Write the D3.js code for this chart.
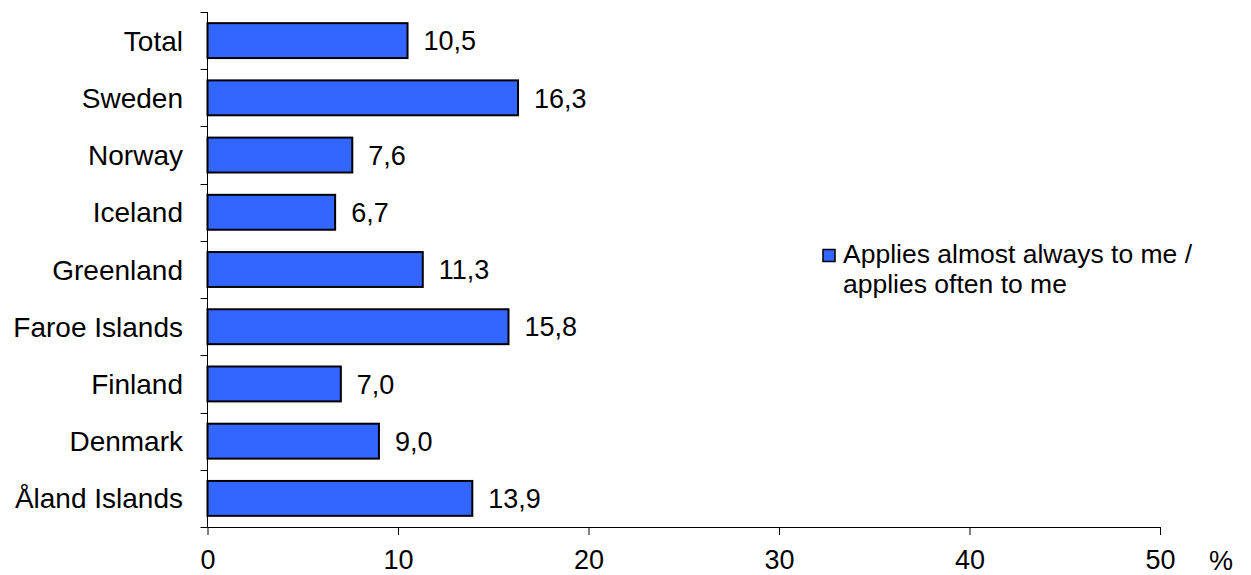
<!DOCTYPE html>
<html><head><meta charset="utf-8">
<script src="https://cdn.jsdelivr.net/npm/d3@7/dist/d3.min.js"></script>
<style>body{margin:0;background:#fff}svg{display:block}text{font-family:"Liberation Sans",Arial,sans-serif;fill:#000}</style>
</head><body>
<svg id="c" width="1251" height="575"></svg>
<script>
const categories = ["Total","Sweden","Norway","Iceland","Greenland","Faroe Islands","Finland","Denmark","Åland Islands"];
const values = [10.5,16.3,7.6,6.7,11.3,15.8,7.0,9.0,13.9];
const xTicks = [0,10,20,30,40,50];
const seriesName = ["Applies almost always to me /","applies often to me"];
const unitLabel = "%";

(function(){
const svg = d3.select("#c");
const pL = 207.5, pR = 1160, pT = 12, pB = 527;
const FS = 27;
const x = d3.scaleLinear().domain([0,50]).range([pL,pR]);
const y = d3.scaleBand().domain(categories).range([pT,pB]).paddingInner(0.39).paddingOuter(0.195);
const band = (pB-pT)/categories.length;

// bars
svg.append("g").selectAll("rect").data(values).join("rect")
  .attr("x", x(0)).attr("y",(d,i)=>y(categories[i]))
  .attr("width", d=>x(d)-x(0)).attr("height", y.bandwidth())
  .attr("fill","#3366FF").attr("stroke","#000").attr("stroke-width",2);

// value labels
svg.append("g").selectAll("text").data(values).join("text")
  .attr("x", d=>x(d)+16).attr("y",(d,i)=>y(categories[i])+y.bandwidth()/2)
  .attr("dy","0.36em").attr("font-size",FS)
  .text(d=>d.toFixed(1).replace(".",","));

// y axis line and ticks (between categories)
const ga = svg.append("g").attr("stroke","#000").attr("stroke-width",1);
ga.append("line").attr("x1",pL).attr("x2",pL).attr("y1",pT).attr("y2",pB);
d3.range(categories.length+1).forEach(i=>{
  const yy = Math.round(pT + i*band)+0.5;
  ga.append("line").attr("x1",pL-7).attr("x2",pL).attr("y1",yy).attr("y2",yy);
});
// x axis
const xAxis = d3.axisBottom(x).tickValues(xTicks).tickSize(8).tickPadding(15).tickFormat(d3.format("d"));
const gx = svg.append("g").attr("transform",`translate(0,${pB})`).call(xAxis);
gx.select(".domain").attr("d",`M${pL},0.5H${pR}`).attr("stroke","#000");
gx.selectAll(".tick line").attr("stroke","#000");
gx.selectAll(".tick text").attr("font-size",FS).attr("font-family","Liberation Sans, Arial, sans-serif").attr("fill","#000");

// category labels
svg.append("g").selectAll("text").data(categories).join("text")
  .attr("x",183).attr("y",d=>y(d)+y.bandwidth()/2).attr("dy","0.36em")
  .attr("text-anchor","end").attr("font-size",28).text(d=>d);

// unit
svg.append("text").attr("x",1221).attr("y",570).attr("text-anchor","middle").attr("font-size",FS).text(unitLabel);

// legend
svg.append("rect").attr("x",823).attr("y",249.5).attr("width",12).attr("height",12)
  .attr("fill","#3366FF").attr("stroke","#000").attr("stroke-width",1.5);
svg.append("text").attr("x",843).attr("y",263).attr("font-size",26.5).text(seriesName[0]);
svg.append("text").attr("x",843).attr("y",293).attr("font-size",26.5).text(seriesName[1]);
})();
</script>
</body></html>
